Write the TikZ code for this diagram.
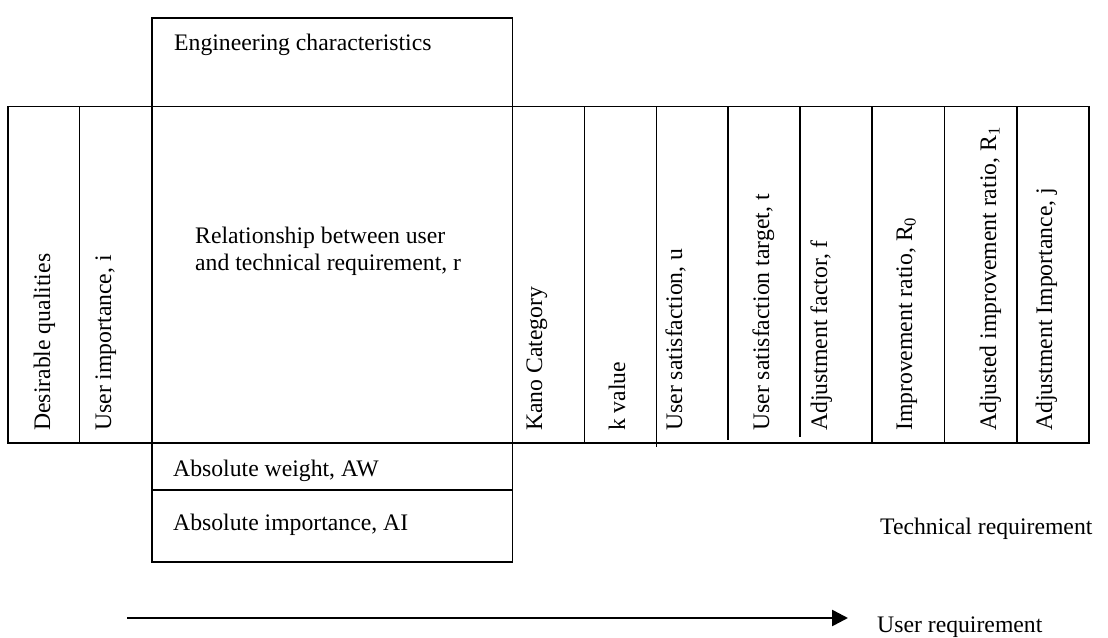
\documentclass[tikz,border=0pt]{standalone}
\usepackage{fontspec}
\setmainfont{Liberation Serif}
\usetikzlibrary{arrows.meta}
\begin{document}
\begin{tikzpicture}[x=1pt,y=-1pt,
  gridline/.style={line width=1.4pt},
  lbl/.style={inner sep=0pt, font=\fontsize{23.7}{27.3}\selectfont},
  vlbl/.style={lbl, rotate=90, anchor=base west},
  hlbl/.style={lbl, anchor=base west},
  flowarrow/.style={line width=2.6pt, -{Triangle[length=16pt,width=16pt]}}]
\useasboundingbox (0,0) rectangle (1108,637);
% top box
\draw[gridline] (152,106.5) -- (152,18) -- (512.5,18) -- (512.5,106.5);
% main table
\draw[gridline] (8,106.5) rectangle (1089,443);
\foreach \x in {79.5,152,512.5,584.5,872,944.5,1017}
  \draw[gridline] (\x,106.5) -- (\x,443);
\draw[gridline] (656.5,106.5) -- (656.5,447);
\draw[gridline] (728,106.5) -- (728,440);
\draw[gridline] (800,106.5) -- (800,437);
% lower boxes
\draw[gridline] (152,443) -- (152,562) -- (512.5,562) -- (512.5,443);
\draw[gridline] (152,490) -- (512.5,490);
% horizontal labels
\node[hlbl] (eng) at (174,50) {Engineering characteristics};
\node[hlbl] (rel1) at (195,243) {Relationship between user};
\node[hlbl] (rel2) at (195,270) {and technical requirement, r};
\node[hlbl] (aw) at (173,476) {Absolute weight, AW};
\node[hlbl] (ai) at (173,530) {Absolute importance, AI};
\node[hlbl] (tech) at (880,534) {Technical requirement};
\node[hlbl] (user) at (877,632) {User requirement};
% vertical labels
\node[vlbl] (dq) at (50,431) {Desirable qualities};
\node[vlbl] (ui) at (111,431) {User importance, i};
\node[vlbl] (kano) at (542,431) {Kano Category};
\node[vlbl] (kv) at (625,431) {k value};
\node[vlbl] (us) at (682,431) {User satisfaction, u};
\node[vlbl] (ust) at (769,431) {User satisfaction target, t};
\node[vlbl] (af) at (827,431) {Adjustment factor, f};
\node[vlbl] (ir) at (912,431) {Improvement ratio, R\textsubscript{0}};
\node[vlbl] (air) at (996,431) {Adjusted improvement ratio, R\textsubscript{1}};
\node[vlbl] (aji) at (1052,431) {Adjustment Importance, j};
% arrow
\coordinate (arrowstart) at (127,618);
\coordinate (arrowend) at (848,618);
\draw[flowarrow] (arrowstart) -- (arrowend);
\end{tikzpicture}
\end{document}
